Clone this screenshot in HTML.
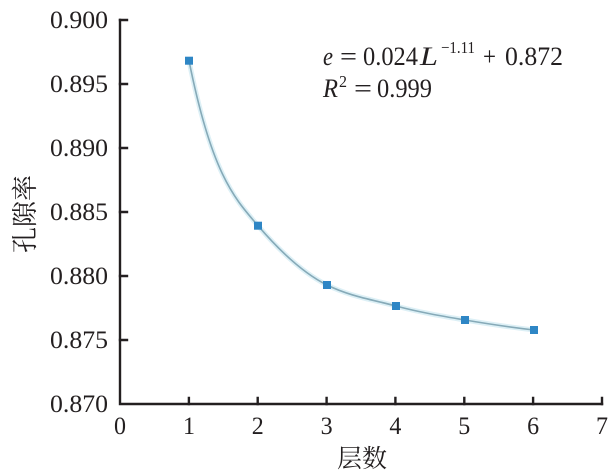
<!DOCTYPE html>
<html><head><meta charset="utf-8"><style>
html,body{margin:0;padding:0;background:#fff;}
svg{display:block;}
text{font-family:"Liberation Serif","Times New Roman",serif;fill:#231f20;}
.cjk{font-family:"Liberation Serif","Noto Serif CJK SC","Noto Sans CJK SC",serif;}
</style></head><body>
<svg width="612" height="474" viewBox="0 0 612 474" xmlns="http://www.w3.org/2000/svg">
<rect width="612" height="474" fill="#fff"/>
<!-- axes -->
<g stroke="#231f20" stroke-width="2.4" fill="none" stroke-linecap="square">
<path d="M120 20 V404 H602"/>
<path d="M120 20 H127 M120 84 H127 M120 148 H127 M120 212 H127 M120 276 H127 M120 340 H127"/>
<path d="M188.9 404 V398 M257.7 404 V398 M326.6 404 V398 M395.4 404 V398 M464.3 404 V398 M533.1 404 V398 M602 404 V398"/>
</g>
<!-- y tick labels -->
<g font-size="25">
<text x="50" y="28" textLength="58" lengthAdjust="spacingAndGlyphs">0.900</text>
<text x="50" y="92" textLength="58" lengthAdjust="spacingAndGlyphs">0.895</text>
<text x="50" y="156" textLength="58" lengthAdjust="spacingAndGlyphs">0.890</text>
<text x="50" y="220" textLength="58" lengthAdjust="spacingAndGlyphs">0.885</text>
<text x="50" y="284" textLength="58" lengthAdjust="spacingAndGlyphs">0.880</text>
<text x="50" y="348" textLength="58" lengthAdjust="spacingAndGlyphs">0.875</text>
<text x="50" y="412" textLength="58" lengthAdjust="spacingAndGlyphs">0.870</text>
</g>
<!-- x tick labels -->
<g font-size="25">
<text x="114" y="434" textLength="12" lengthAdjust="spacingAndGlyphs">0</text>
<text x="183" y="434" textLength="12" lengthAdjust="spacingAndGlyphs">1</text>
<text x="251.7" y="434" textLength="12" lengthAdjust="spacingAndGlyphs">2</text>
<text x="320.6" y="434" textLength="12" lengthAdjust="spacingAndGlyphs">3</text>
<text x="389.4" y="434" textLength="12" lengthAdjust="spacingAndGlyphs">4</text>
<text x="458.3" y="434" textLength="12" lengthAdjust="spacingAndGlyphs">5</text>
<text x="527.1" y="434" textLength="12" lengthAdjust="spacingAndGlyphs">6</text>
<text x="596" y="434" textLength="12" lengthAdjust="spacingAndGlyphs">7</text>
</g>
<!-- axis titles -->
<text class="cjk" x="337" y="467" font-size="25" textLength="50" lengthAdjust="spacingAndGlyphs">层数</text>
<text class="cjk" transform="translate(34,214) rotate(-90)" font-size="26" text-anchor="middle">孔隙率</text>
<!-- curve -->
<path d="M189 60.7 C212 175.4 235 198.9 258 225.7 C281 252.5 304 273.6 327 285 C350 296.4 373 299.8 396 306 C419 312.2 442 316.1 465 320 C488 323.9 511 327.3 534 330" fill="none" stroke="#ddf0f6" stroke-width="5"/>
<path d="M189 60.7 C212 175.4 235 198.9 258 225.7 C281 252.5 304 273.6 327 285 C350 296.4 373 299.8 396 306 C419 312.2 442 316.1 465 320 C488 323.9 511 327.3 534 330" fill="none" stroke="#86aab8" stroke-width="1.6"/>
<!-- markers -->
<g fill="#2e86c5">
<rect x="185" y="56.7" width="8" height="8"/>
<rect x="254" y="221.7" width="8" height="8"/>
<rect x="323" y="281" width="8" height="8"/>
<rect x="392" y="302" width="8" height="8"/>
<rect x="461" y="316" width="8" height="8"/>
<rect x="530" y="326" width="8" height="8"/>
</g>
<!-- equation -->
<g font-size="26">
<text x="323" y="65" font-style="italic" textLength="10" lengthAdjust="spacingAndGlyphs">e</text>
<text x="340" y="65" textLength="17" lengthAdjust="spacingAndGlyphs">=</text>
<text x="363" y="65" textLength="55" lengthAdjust="spacingAndGlyphs">0.024</text>
<text x="420" y="65" font-style="italic" textLength="18" lengthAdjust="spacingAndGlyphs">L</text>
<text x="441" y="53" font-size="17" textLength="34" lengthAdjust="spacingAndGlyphs">−1.11</text>
<text x="483" y="65" textLength="13" lengthAdjust="spacingAndGlyphs">+</text>
<text x="505" y="65" textLength="58" lengthAdjust="spacingAndGlyphs">0.872</text>
<text x="323" y="97" font-style="italic" textLength="15" lengthAdjust="spacingAndGlyphs">R</text>
<text x="339" y="87" font-size="17" textLength="8" lengthAdjust="spacingAndGlyphs">2</text>
<text x="354" y="97" textLength="18" lengthAdjust="spacingAndGlyphs">=</text>
<text x="377" y="97" textLength="55" lengthAdjust="spacingAndGlyphs">0.999</text>
</g>
</svg>
</body></html>
